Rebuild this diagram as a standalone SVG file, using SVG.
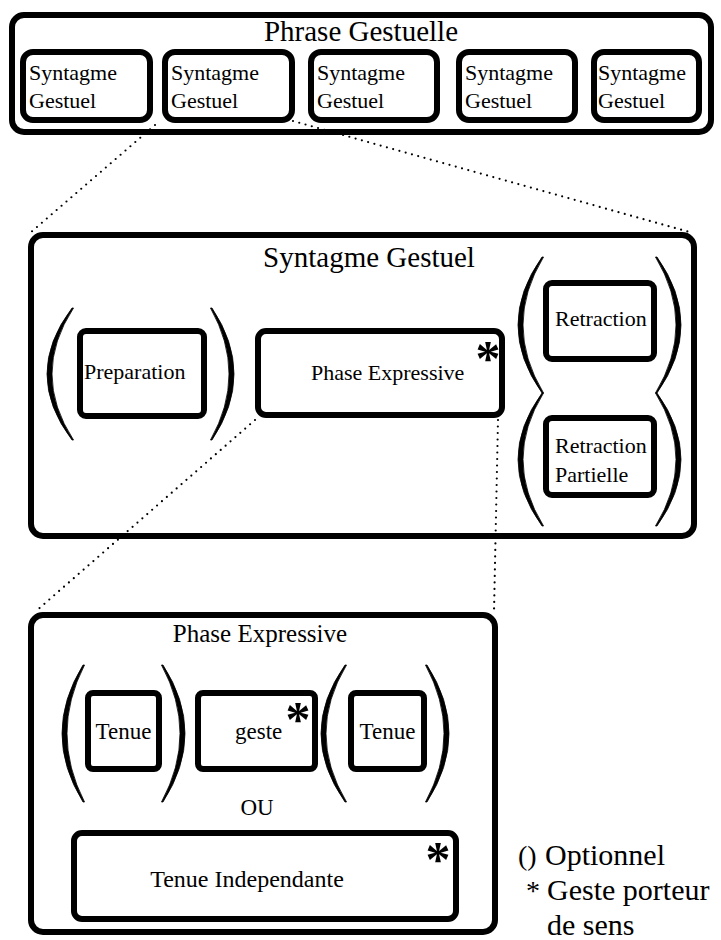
<svg xmlns="http://www.w3.org/2000/svg" width="721" height="940" viewBox="0 0 721 940">
<style>
  .box { fill: #fff; stroke: #000; stroke-width: 6; }
  .t { font-family: "Liberation Serif", "Times New Roman", serif; fill: #000; }
  .ttl { font-size: 29px; }
  .lbl { font-size: 22px; }
  .star { font-family: "Liberation Serif", "Times New Roman", serif; font-weight: bold; font-size: 50px; text-anchor: middle; }
  .par { fill: #000; stroke: #000; stroke-width: 0.8; stroke-linejoin: round; }
  .dot { fill: none; stroke: #000; stroke-width: 2.2; stroke-linecap: round; stroke-dasharray: 0 6.5; }
  .mid { text-anchor: middle; }
</style>
<rect width="721" height="940" fill="#fff"/>

<g id="phrase-gestuelle">
  <rect class="box" x="12" y="15" width="699" height="117" rx="12"/>
  <text class="t ttl mid" x="361" y="41">Phrase Gestuelle</text>
</g>
<g id="sg1">
  <rect class="box" x="23" y="52" width="127" height="68" rx="10"/>
  <text class="t lbl" x="29" y="80">Syntagme</text>
  <text class="t lbl" x="29" y="108">Gestuel</text>
</g>
<g id="sg2">
  <rect class="box" x="165" y="52" width="127" height="68" rx="10"/>
  <text class="t lbl" x="171" y="80">Syntagme</text>
  <text class="t lbl" x="171" y="108">Gestuel</text>
</g>
<g id="sg3">
  <rect class="box" x="311" y="52" width="126" height="68" rx="10"/>
  <text class="t lbl" x="317" y="80">Syntagme</text>
  <text class="t lbl" x="317" y="108">Gestuel</text>
</g>
<g id="sg4">
  <rect class="box" x="459" y="52" width="116" height="68" rx="10"/>
  <text class="t lbl" x="465" y="80">Syntagme</text>
  <text class="t lbl" x="465" y="108">Gestuel</text>
</g>
<g id="sg5">
  <rect class="box" x="594" y="52" width="105" height="68" rx="10"/>
  <text class="t lbl" x="598" y="80">Syntagme</text>
  <text class="t lbl" x="598" y="108">Gestuel</text>
</g>

<g id="syntagme-gestuel">
  <rect class="box" x="31" y="235" width="663" height="301" rx="12"/>
  <text class="t ttl mid" x="369" y="267">Syntagme Gestuel</text>
</g>
<g id="preparation">
  <path class="par" d="M72,308 Q22,374 72,440 L73.5,440 Q30.5,374 73.5,308 Z"/>
  <path class="par" d="M212,308 Q256,374 212,440 L210.5,440 Q247.5,374 210.5,308 Z"/>
  <rect class="box" x="80" y="331" width="124" height="85" rx="6"/>
  <text class="t lbl" x="84" y="379">Preparation</text>
</g>
<g id="phase-expressive-node">
  <rect class="box" x="258" y="331" width="244" height="84" rx="8"/>
  <text class="t lbl" x="311" y="380">Phase Expressive</text>
  <text class="star" x="488" y="375">*</text>
</g>
<g id="retraction">
  <path class="par" d="M542,257 Q494,325 542,393 L543.5,393 Q502.5,325 543.5,257 Z"/>
  <path class="par" d="M657,257 Q705,325 657,393 L655.5,393 Q696.5,325 655.5,257 Z"/>
  <rect class="box" x="546" y="283" width="108" height="76" rx="6"/>
  <text class="t lbl" x="555" y="326">Retraction</text>
</g>
<g id="retraction-partielle">
  <path class="par" d="M542,393 Q494,459.5 542,526 L543.5,526 Q502.5,459.5 543.5,393 Z"/>
  <path class="par" d="M657,393 Q705,459.5 657,526 L655.5,526 Q696.5,459.5 655.5,393 Z"/>
  <rect class="box" x="546" y="418" width="108" height="77" rx="6"/>
  <text class="t lbl" x="555" y="453">Retraction</text>
  <text class="t lbl" x="555" y="482">Partielle</text>
</g>

<g id="phase-expressive">
  <rect class="box" x="31" y="615" width="464" height="317" rx="12"/>
  <text class="t mid" x="260" y="642" font-size="25">Phase Expressive</text>
  <text class="t mid" x="257" y="815" font-size="23">OU</text>
</g>
<g id="tenue1">
  <path class="par" d="M83,665 Q41,733.5 83,802 L84.5,802 Q49.5,733.5 84.5,665 Z"/>
  <path class="par" d="M163,665 Q207,733.5 163,802 L161.5,802 Q198.5,733.5 161.5,665 Z"/>
  <rect class="box" x="88" y="693" width="71" height="76" rx="5"/>
  <text class="t mid" x="123.5" y="739" font-size="23">Tenue</text>
</g>
<g id="geste">
  <rect class="box" x="198" y="693" width="117" height="76" rx="5"/>
  <text class="t" x="235" y="739" font-size="23">geste</text>
  <text class="star" x="298" y="736">*</text>
</g>
<g id="tenue2">
  <path class="par" d="M345,665 Q297,733.5 345,802 L346.5,802 Q305.5,733.5 346.5,665 Z"/>
  <path class="par" d="M427,665 Q471,733.5 427,802 L425.5,802 Q462.5,733.5 425.5,665 Z"/>
  <rect class="box" x="351" y="693" width="73" height="76" rx="5"/>
  <text class="t mid" x="387.5" y="739" font-size="23">Tenue</text>
</g>
<g id="tenue-independante">
  <rect class="box" x="74" y="833" width="382" height="86" rx="8"/>
  <text class="t mid" x="247" y="887" font-size="24">Tenue Independante</text>
  <text class="star" x="438" y="876">*</text>
</g>

<g id="connectors">
  <line class="dot" x1="155" y1="125" x2="30" y2="233"/>
  <line class="dot" x1="293" y1="121" x2="693" y2="233"/>
  <line class="dot" x1="255" y1="420" x2="35" y2="612"/>
  <line class="dot" x1="498" y1="420" x2="494" y2="612"/>
</g>

<g id="legend">
  <text class="t" x="518" y="865" font-size="28">()</text>
  <text class="t" x="545" y="865" font-size="30">Optionnel</text>
  <text class="t" x="526" y="900" font-size="28">*</text>
  <text class="t" x="547" y="900" font-size="30">Geste porteur</text>
  <text class="t" x="547" y="935" font-size="30">de sens</text>
</g>
</svg>
